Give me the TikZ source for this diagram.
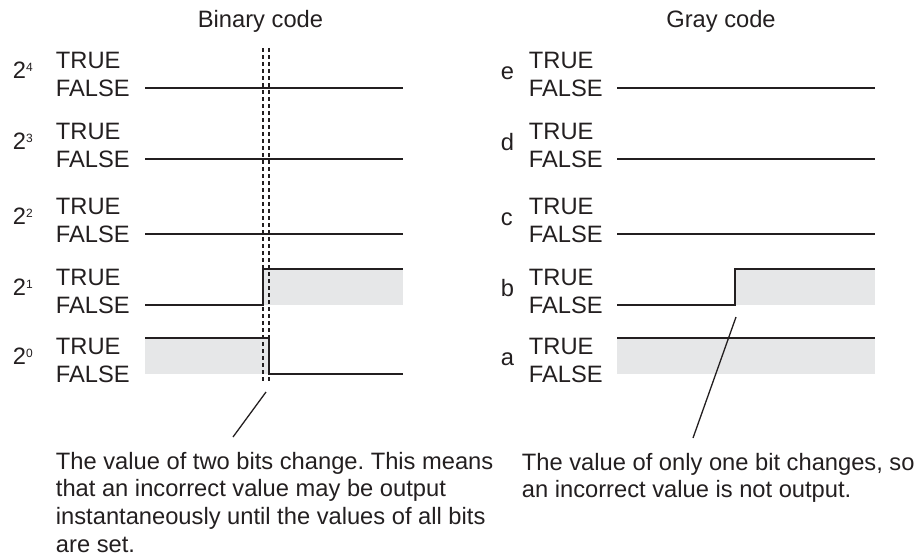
\documentclass[tikz,border=0pt]{standalone}
\usepackage{fontspec}
\setmainfont{Liberation Sans}
\definecolor{band}{RGB}{230,231,232}
\definecolor{ink}{RGB}{35,31,32}
\newcommand{\bitpow}[1]{2\raisebox{7pt}{\fontsize{12}{12}\selectfont #1}}
\frenchspacing
\begin{document}
\begin{tikzpicture}[x=1pt, y=-1pt, line width=1.9pt, color=ink, font=\fontsize{23.7}{27.7}\selectfont]
\tikzset{
  lbl/.style={anchor=base west, inner sep=0pt},
  marker/.style={line width=1.4pt, dash pattern=on 4pt off 3pt},
  pointer/.style={line width=1.3pt},
  note/.style={anchor=north west, inner sep=0pt, align=left}
}
\useasboundingbox (0,0) rectangle (917,557);
\node[anchor=base] (bintitle) at (260.5,27) {Binary code};
\node[anchor=base] (graytitle) at (721,27) {Gray code};
% row labels
\foreach \y/\b/\g in {88/4/e, 159/3/d, 234/2/c, 305/1/b, 374/0/a} {
  \node[lbl] (bin\b) at (12,{\y-10}) {\bitpow{\b}};
  \node[lbl] (bt\b) at (55,{\y-20}) {TRUE};
  \node[lbl] (bf\b) at (55,{\y+8}) {FALSE};
  \node[lbl] (gray\g) at (500,{\y-9}) {\g};
  \node[lbl] (gt\g) at (528,{\y-20}) {TRUE};
  \node[lbl] (gf\g) at (528,{\y+8}) {FALSE};
}
% constant bits
\foreach \y in {88,159,234} {
  \draw (145,\y) -- (403,\y);
  \draw (617,\y) -- (875,\y);
}
% binary code, bits 1 and 0
\fill[band] (263,268.7) rectangle (403,305);
\draw (145,305) -- (263,305) -- (263,268.7) -- (403,268.7);
\fill[band] (145,338) rectangle (269,374);
\draw (145,338) -- (269,338) -- (269,374) -- (403,374);
\draw[marker] (263,48) -- (263,382);
\draw[marker] (269,48) -- (269,382);
% gray code, bits b and a
\fill[band] (735,268.7) rectangle (875,305);
\draw (617,305) -- (735,305) -- (735,268.7) -- (875,268.7);
\fill[band] (617,338) rectangle (875,374);
\draw (617,338) -- (875,338);
% notes
\node[note] (binnote) at (55,451) {The value of two bits change. This means\\that an incorrect value may be output\\instantaneously until the values of all bits\\are set.};
\node[note] (graynote) at (521,452) {The value of only one bit changes, so\\an incorrect value is not output.};
\coordinate (binedge) at (266,392);
\coordinate (binend) at (233,437);
\coordinate (grayedge) at (736,317);
\coordinate (grayend) at (693,438);
\draw[pointer] (binedge) -- (binend);
\draw[pointer] (grayedge) -- (grayend);
\end{tikzpicture}
\end{document}
